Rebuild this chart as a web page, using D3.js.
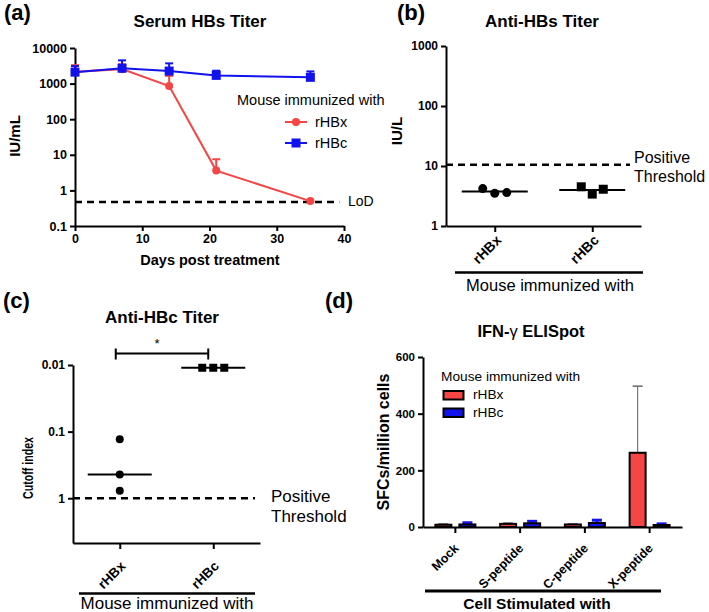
<!DOCTYPE html>
<html>
<head>
<meta charset="utf-8">
<script src="https://cdn.jsdelivr.net/npm/d3@7"></script>
<style>
  body { margin: 0; background: #fff; }
  svg text { font-family: "Liberation Sans", Arial, sans-serif; fill: #000; }
</style>
</head>
<body>
<svg id="chart" width="709" height="612"></svg>
<script>
// (a) serum HBs titer over time
const days = [0, 7, 14, 21, 35];
const hbsX = [2150, 2550, 850, 3.6, 0.5];
const hbsXUp = [3300, 3500, 1650, 7.5, 0.5];
const hbsC = [2100, 2700, 2250, 1700, 1500];
const hbsCUp = [3100, 4500, 3700, 2300, 2200];
const lod = 0.47;
const titerTicks = [0.1, 1, 10, 100, 1000, 10000];
const dayTicks = [0, 10, 20, 30, 40];

// (b) anti-HBs
const groups = ["rHBx", "rHBc"];
const antiHBsX = [4.2, 3.5, 3.6];
const antiHBsC = [4.5, 3.4, 4.1];
const antiHBsThreshold = 10.5;
const antiHBsTicks = [1, 10, 100, 1000];

// (c) anti-HBc (cutoff index, reversed axis)
const antiHBcX = [0.13, 0.44, 0.77];
const antiHBcC = [0.011, 0.011, 0.011];
const antiHBcThreshold = 1;
const antiHBcTicks = [0.01, 0.1, 1];

// (d) IFN-g ELISpot
const stimuli = ["Mock", "S-peptide", "C-peptide", "X-peptide"];
const sfcX = [8, 11, 9, 262];
const sfcXUp = [11, 14, 11, 497];
const sfcC = [9, 13, 14, 7];
const sfcCUp = [15, 20, 24, 11];
const sfcTicks = [0, 200, 400, 600];

const red = "#f54545";
const blue = "#1212ee";

const svg = d3.select("#chart");

function text(x, y, str, size, weight, anchor) {
    return svg.append("text")
        .attr("x", x).attr("y", y)
        .attr("font-size", size)
        .attr("font-weight", weight || "normal")
        .attr("text-anchor", anchor || "start")
        .text(str);
}

function vlabel(x, y, str, size) {
    return svg.append("text")
        .attr("transform", `translate(${x},${y}) rotate(-90)`)
        .attr("font-size", size)
        .attr("font-weight", "bold")
        .attr("text-anchor", "middle")
        .text(str);
}

function styleAxis(g, size) {
    g.selectAll("path, line").attr("stroke", "#000").attr("stroke-width", 2);
    g.selectAll("text").attr("font-size", size).attr("font-weight", "bold")
        .attr("fill", "#000").attr("font-family", "Liberation Sans, Arial, sans-serif");
}

// tick labels turned 45 degrees, anchored below-right of the tick
function rotateLabels(g, size, dx, dy) {
    g.selectAll("text")
        .attr("x", 0).attr("y", 0).attr("dy", 0)
        .attr("transform", `translate(${dx},${dy}) rotate(-45)`)
        .attr("text-anchor", "end")
        .attr("font-size", size);
}

function dashed(x1, x2, y) {
    svg.append("line")
        .attr("x1", x1).attr("x2", x2).attr("y1", y).attr("y2", y)
        .attr("stroke", "#000").attr("stroke-width", 2.5)
        .attr("stroke-dasharray", "7,5");
}

// ---------- (a) ----------
text(4, 20, "(a)", 22, "bold");
text(200, 27, "Serum HBs Titer", 17, "bold", "middle");

const xA = d3.scaleLinear().domain([0, 40]).range([75, 344]);
const yA = d3.scaleLog().domain([0.1, 10000]).range([226, 48]);

const axA = svg.append("g").attr("transform", "translate(0,226)")
    .call(d3.axisBottom(xA).tickValues(dayTicks).tickSize(5).tickSizeOuter(0).tickFormat(d3.format("d")));
styleAxis(axA, 12.5);
const ayA = svg.append("g").attr("transform", "translate(75,0)")
    .call(d3.axisLeft(yA).tickValues(titerTicks).tickSize(5).tickSizeOuter(0).tickFormat(d => String(d)));
styleAxis(ayA, 12.5);

vlabel(20, 136, "IU/mL", 15);
text(210, 265, "Days post treatment", 14.5, "bold", "middle");

dashed(xA(0), xA(39.3), yA(lod));
text(348, 206, "LoD", 14);

const seriesA = [
    { name: "rHBx", color: red, mean: hbsX, up: hbsXUp, shape: "circle" },
    { name: "rHBc", color: blue, mean: hbsC, up: hbsCUp, shape: "square" }
];

seriesA.forEach(s => {
    const pts = days.map((d, i) => ({ day: d, v: s.mean[i], up: s.up[i] }));
    const g = svg.append("g");
    g.append("path")
        .datum(pts)
        .attr("fill", "none")
        .attr("stroke", s.color)
        .attr("stroke-width", 2)
        .attr("d", d3.line().x(d => xA(d.day)).y(d => yA(d.v)));
    const eb = pts.filter(d => d.up > d.v);
    g.selectAll(".eb").data(eb).join("line")
        .attr("x1", d => xA(d.day)).attr("x2", d => xA(d.day))
        .attr("y1", d => yA(d.v)).attr("y2", d => yA(d.up))
        .attr("stroke", s.color).attr("stroke-width", 2);
    g.selectAll(".cap").data(eb).join("line")
        .attr("x1", d => xA(d.day) - 4).attr("x2", d => xA(d.day) + 4)
        .attr("y1", d => yA(d.up)).attr("y2", d => yA(d.up))
        .attr("stroke", s.color).attr("stroke-width", 2);
    if (s.shape === "circle") {
        g.selectAll(".m").data(pts).join("circle")
            .attr("cx", d => xA(d.day)).attr("cy", d => yA(d.v)).attr("r", 4)
            .attr("fill", s.color);
    } else {
        g.selectAll(".m").data(pts).join("rect")
            .attr("x", d => xA(d.day) - 4.5).attr("y", d => yA(d.v) - 4.5)
            .attr("width", 9).attr("height", 9)
            .attr("fill", s.color);
    }
});

// legend (a)
text(237, 105, "Mouse immunized with", 14.5);
seriesA.forEach((s, i) => {
    const ly = 122 + i * 21;
    svg.append("line").attr("x1", 285).attr("x2", 307).attr("y1", ly).attr("y2", ly)
        .attr("stroke", s.color).attr("stroke-width", 2);
    if (s.shape === "circle") {
        svg.append("circle").attr("cx", 296).attr("cy", ly).attr("r", 4).attr("fill", s.color);
    } else {
        svg.append("rect").attr("x", 291.5).attr("y", ly - 4.5).attr("width", 9).attr("height", 9).attr("fill", s.color);
    }
    text(315, ly + 5, s.name, 14.5);
});

// ---------- (b) ----------
text(397, 20, "(b)", 22, "bold");
text(542, 27, "Anti-HBs Titer", 17, "bold", "middle");

const xB = d3.scalePoint().domain(groups).range([446, 641]).padding(0.5);
const yB = d3.scaleLog().domain([1, 1000]).range([226, 46]);

const axB = svg.append("g").attr("transform", "translate(0,226)")
    .call(d3.axisBottom(xB).tickSize(6).tickSizeOuter(0));
styleAxis(axB, 14);
rotateLabels(axB, 14, 7, 15);
const ayB = svg.append("g").attr("transform", "translate(446,0)")
    .call(d3.axisLeft(yB).tickValues(antiHBsTicks).tickSize(5).tickSizeOuter(0).tickFormat(d => String(d)));
styleAxis(ayB, 12);

vlabel(402, 131, "IU/L", 15);
dashed(446, 630, yB(antiHBsThreshold));
text(634, 163, "Positive", 16);
text(634, 181.5, "Threshold", 16);

svg.append("line").attr("x1", 455).attr("x2", 643).attr("y1", 272.5).attr("y2", 272.5)
    .attr("stroke", "#000").attr("stroke-width", 2.5);
text(550, 291, "Mouse immunized with", 16.5, "normal", "middle");

[antiHBsX, antiHBsC].forEach((vals, gi) => {
    const cx = xB(groups[gi]);
    const m = d3.mean(vals);
    svg.append("line").attr("x1", cx - 33).attr("x2", cx + 33)
        .attr("y1", yB(m)).attr("y2", yB(m))
        .attr("stroke", "#000").attr("stroke-width", 2);
    if (gi === 0) {
        svg.selectAll(".pb" + gi).data(vals).join("circle")
            .attr("cx", (d, i) => cx + (i - 1) * 12).attr("cy", d => yB(d)).attr("r", 4.5)
            .attr("fill", "#000");
    } else {
        svg.selectAll(".pb" + gi).data(vals).join("rect")
            .attr("x", (d, i) => cx + (i - 1) * 11 - 4.5).attr("y", d => yB(d) - 4.5)
            .attr("width", 9).attr("height", 9)
            .attr("fill", "#000");
    }
});

// ---------- (c) ----------
text(3, 308, "(c)", 22, "bold");
text(162, 323, "Anti-HBc Titer", 17, "bold", "middle");
text(325, 308, "(d)", 22, "bold");

const xC = d3.scalePoint().domain(groups).range([73, 260]).padding(0.5);
const yC = d3.scaleLog().domain([0.01, 4.7]).range([365, 543]);

const axC = svg.append("g").attr("transform", "translate(0,543)")
    .call(d3.axisBottom(xC).tickSize(6).tickSizeOuter(0));
styleAxis(axC, 13.5);
rotateLabels(axC, 13.5, 6, 24);
const ayC = svg.append("g").attr("transform", "translate(73,0)")
    .call(d3.axisLeft(yC).tickValues(antiHBcTicks).tickSize(5).tickSizeOuter(0).tickFormat(d => String(d)));
styleAxis(ayC, 12);

vlabel(33, 468, "Cutoff index", 14.5)
    .attr("textLength", 62)
    .attr("lengthAdjust", "spacingAndGlyphs");
dashed(73, 255, yC(antiHBcThreshold));
text(271, 502, "Positive", 17);
text(271, 522, "Threshold", 17);

svg.append("line").attr("x1", 79).attr("x2", 255).attr("y1", 593.5).attr("y2", 593.5)
    .attr("stroke", "#000").attr("stroke-width", 2.5);
text(167, 609, "Mouse immunized with", 17, "normal", "middle");

// significance bracket
const bx1 = xC("rHBx") - 4, bx2 = xC("rHBc") - 5, by = 353.5;
svg.append("path")
    .attr("d", `M${bx1},${by - 5}V${by + 6}M${bx1},${by}H${bx2}M${bx2},${by - 5}V${by + 6}`)
    .attr("fill", "none").attr("stroke", "#000").attr("stroke-width", 2);
text((bx1 + bx2) / 2 - 5, 348, "*", 13, "normal", "middle");

[antiHBcX, antiHBcC].forEach((vals, gi) => {
    const cx = xC(groups[gi]);
    const m = d3.median(vals);
    svg.append("line").attr("x1", cx - 32).attr("x2", cx + 32)
        .attr("y1", yC(m)).attr("y2", yC(m))
        .attr("stroke", "#000").attr("stroke-width", 2);
    if (gi === 0) {
        svg.selectAll(".pc" + gi).data(vals).join("circle")
            .attr("cx", cx).attr("cy", d => yC(d)).attr("r", 4)
            .attr("fill", "#000");
    } else {
        svg.selectAll(".pc" + gi).data(vals).join("rect")
            .attr("x", (d, i) => cx + (i - 1) * 11 - 4).attr("y", d => yC(d) - 4)
            .attr("width", 8).attr("height", 8)
            .attr("fill", "#000");
    }
});

// ---------- (d) ----------
const titleD = svg.append("text").attr("x", 531).attr("y", 337)
    .attr("font-size", 16.5).attr("font-weight", "bold").attr("text-anchor", "middle");
titleD.append("tspan").text("IFN-");
titleD.append("tspan").attr("font-weight", "normal").text("γ");
titleD.append("tspan").text(" ELISpot");

const xD = d3.scaleBand().domain(stimuli).range([423, 682]);
const inner = d3.scaleBand().domain(groups).range([-20, 20]).paddingInner(0.333);
const yD = d3.scaleLinear().domain([0, 600]).range([527, 357]);

const axD = svg.append("g").attr("transform", "translate(0,527)")
    .call(d3.axisBottom(xD).tickSize(6).tickSizeOuter(0));
styleAxis(axD, 12.5);
rotateLabels(axD, 12.5, 4, 22);
const ayD = svg.append("g").attr("transform", "translate(423,0)")
    .call(d3.axisLeft(yD).tickValues(sfcTicks).tickSize(5).tickSizeOuter(0));
styleAxis(ayD, 11.5);

vlabel(389, 442, "SFCs/million cells", 16);

svg.append("line").attr("x1", 425).attr("x2", 661).attr("y1", 591).attr("y2", 591)
    .attr("stroke", "#000").attr("stroke-width", 3);
text(537, 609, "Cell Stimulated with", 15.5, "bold", "middle");

const seriesD = [
    { name: "rHBx", color: red, vals: sfcX, up: sfcXUp, err: "#777", errW: 1.2 },
    { name: "rHBc", color: blue, vals: sfcC, up: sfcCUp, err: blue, errW: 2.5 }
];

seriesD.forEach(s => {
    const rows = stimuli.map((k, i) => ({ k: k, v: s.vals[i], up: s.up[i] }));
    const bw = inner.bandwidth();
    const g = svg.append("g");
    g.selectAll(".e").data(rows).join("line")
        .attr("x1", d => xD(d.k) + xD.bandwidth() / 2 + inner(s.name) + bw / 2)
        .attr("x2", d => xD(d.k) + xD.bandwidth() / 2 + inner(s.name) + bw / 2)
        .attr("y1", d => yD(d.v)).attr("y2", d => yD(d.up))
        .attr("stroke", s.err).attr("stroke-width", s.errW);
    g.selectAll(".c").data(rows).join("line")
        .attr("x1", d => xD(d.k) + xD.bandwidth() / 2 + inner(s.name) + bw / 2 - 5)
        .attr("x2", d => xD(d.k) + xD.bandwidth() / 2 + inner(s.name) + bw / 2 + 5)
        .attr("y1", d => yD(d.up)).attr("y2", d => yD(d.up))
        .attr("stroke", s.err).attr("stroke-width", s.errW + 0.5);
    g.selectAll(".b").data(rows).join("rect")
        .attr("x", d => xD(d.k) + xD.bandwidth() / 2 + inner(s.name))
        .attr("y", d => yD(d.v))
        .attr("width", bw)
        .attr("height", d => yD(0) - yD(d.v))
        .attr("fill", s.color)
        .attr("stroke", "#000").attr("stroke-width", 2);
});

// legend (d)
text(441, 381, "Mouse immunized with", 13.7);
seriesD.forEach((s, i) => {
    const ly = 391 + i * 17.5;
    svg.append("rect").attr("x", 443.5).attr("y", ly).attr("width", 20).attr("height", 8.5)
        .attr("fill", s.color).attr("stroke", "#000").attr("stroke-width", 2);
    text(473, ly + 8, s.name, 13.7);
});
</script>
</body>
</html>
